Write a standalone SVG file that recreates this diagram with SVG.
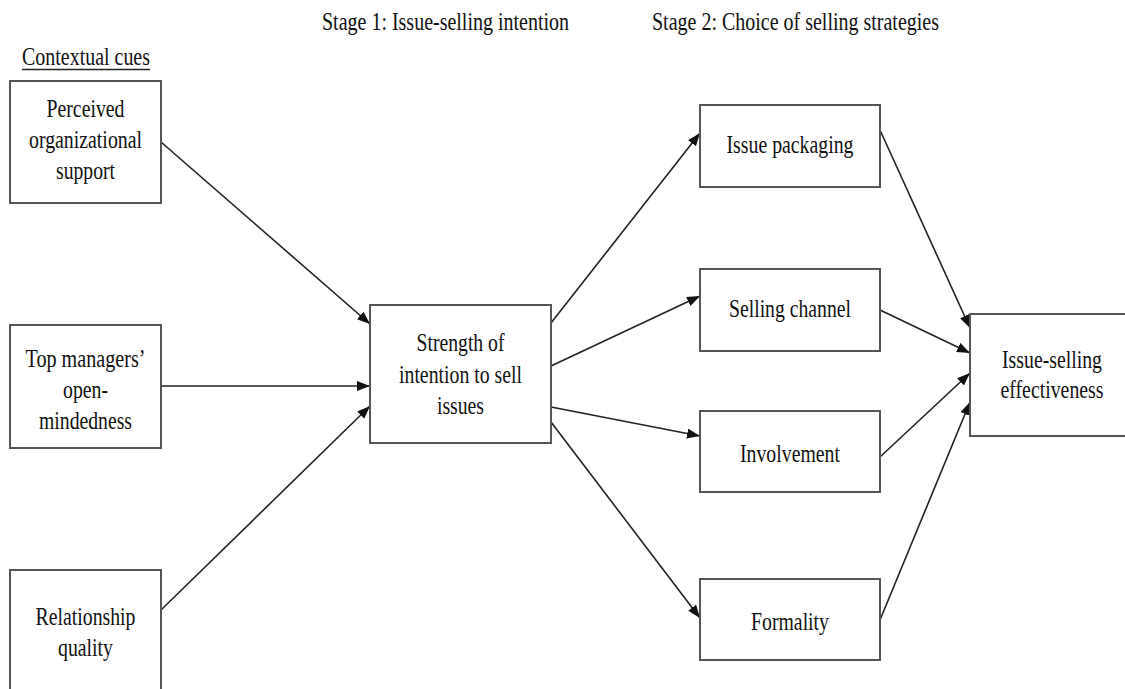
<svg xmlns="http://www.w3.org/2000/svg" width="1125" height="689" viewBox="0 0 1125 689">
  <style>
    .box { fill: #ffffff; stroke: #555555; stroke-width: 2; }
    .lbl { font-family: "Liberation Serif", "Times New Roman", serif; font-size: 25px; fill: #111111; text-anchor: middle; }
    .hdr { font-family: "Liberation Serif", "Times New Roman", serif; font-size: 25px; fill: #111111; text-anchor: start; }
    .edge { stroke: #222222; stroke-width: 1.6; fill: none; marker-end: url(#arrow); }
  </style>
  <defs>
    <marker id="arrow" markerUnits="userSpaceOnUse" markerWidth="14" markerHeight="11" refX="13" refY="5" orient="auto">
      <path d="M0,0 L13,5 L0,10 Z" fill="#111111"/>
    </marker>
  </defs>
  <rect width="1125" height="689" fill="#ffffff"/>

  <!-- column headings -->
  <g id="headings">
    <text class="hdr" x="322" y="30" textLength="247" lengthAdjust="spacingAndGlyphs">Stage 1: Issue-selling intention</text>
    <text class="hdr" x="652" y="30" textLength="287" lengthAdjust="spacingAndGlyphs">Stage 2: Choice of selling strategies</text>
    <text class="hdr" x="22" y="65" textLength="128" lengthAdjust="spacingAndGlyphs">Contextual cues</text>
    <line x1="22" y1="69.5" x2="150" y2="69.5" stroke="#222222" stroke-width="1.3"/>
  </g>

  <!-- connectors -->
  <g id="connectors">
    <line class="edge" x1="161" y1="142" x2="370" y2="324"/>
    <line class="edge" x1="161" y1="386" x2="370" y2="386"/>
    <line class="edge" x1="161" y1="610" x2="370" y2="406"/>
    <line class="edge" x1="551" y1="323" x2="700" y2="133"/>
    <line class="edge" x1="551" y1="366" x2="700" y2="296"/>
    <line class="edge" x1="551" y1="407" x2="700" y2="436"/>
    <line class="edge" x1="551" y1="422" x2="700" y2="618"/>
    <line class="edge" x1="880" y1="130" x2="970" y2="328"/>
    <line class="edge" x1="880" y1="310" x2="970" y2="353"/>
    <line class="edge" x1="880" y1="457" x2="970" y2="373"/>
    <line class="edge" x1="880" y1="620" x2="970" y2="402"/>
  </g>

  <!-- contextual cues -->
  <g id="perceived-support">
    <rect class="box" x="10" y="81" width="151" height="122"/>
    <text class="lbl" x="85.5" y="117" textLength="78" lengthAdjust="spacingAndGlyphs">Perceived</text>
    <text class="lbl" x="85.5" y="148" textLength="113" lengthAdjust="spacingAndGlyphs">organizational</text>
    <text class="lbl" x="85.5" y="179" textLength="59" lengthAdjust="spacingAndGlyphs">support</text>
  </g>
  <g id="open-mindedness">
    <rect class="box" x="10" y="325" width="151" height="123"/>
    <text class="lbl" x="85.5" y="367" textLength="120" lengthAdjust="spacingAndGlyphs">Top managers’</text>
    <text class="lbl" x="85.5" y="398" textLength="45" lengthAdjust="spacingAndGlyphs">open-</text>
    <text class="lbl" x="85.5" y="429" textLength="93" lengthAdjust="spacingAndGlyphs">mindedness</text>
  </g>
  <g id="relationship-quality">
    <rect class="box" x="10" y="570" width="151" height="123"/>
    <text class="lbl" x="85.5" y="625" textLength="100" lengthAdjust="spacingAndGlyphs">Relationship</text>
    <text class="lbl" x="85.5" y="656" textLength="55" lengthAdjust="spacingAndGlyphs">quality</text>
  </g>

  <!-- stage 1 -->
  <g id="intention-strength">
    <rect class="box" x="370" y="305" width="181" height="138"/>
    <text class="lbl" x="460.5" y="351" textLength="88" lengthAdjust="spacingAndGlyphs">Strength of</text>
    <text class="lbl" x="460.5" y="383" textLength="123" lengthAdjust="spacingAndGlyphs">intention to sell</text>
    <text class="lbl" x="460.5" y="414" textLength="47" lengthAdjust="spacingAndGlyphs">issues</text>
  </g>

  <!-- stage 2 -->
  <g id="issue-packaging">
    <rect class="box" x="700" y="105" width="180" height="82"/>
    <text class="lbl" x="790" y="153" textLength="127" lengthAdjust="spacingAndGlyphs">Issue packaging</text>
  </g>
  <g id="selling-channel">
    <rect class="box" x="700" y="269" width="180" height="82"/>
    <text class="lbl" x="790" y="317" textLength="122" lengthAdjust="spacingAndGlyphs">Selling channel</text>
  </g>
  <g id="involvement">
    <rect class="box" x="700" y="411" width="180" height="81"/>
    <text class="lbl" x="790" y="462" textLength="100" lengthAdjust="spacingAndGlyphs">Involvement</text>
  </g>
  <g id="formality">
    <rect class="box" x="700" y="579" width="180" height="81"/>
    <text class="lbl" x="790" y="630" textLength="78" lengthAdjust="spacingAndGlyphs">Formality</text>
  </g>

  <!-- outcome: box runs off the right edge of the page -->
  <g id="effectiveness">
    <path class="box" d="M1125,314 H970 V436 H1125"/>
    <text class="lbl" x="1052" y="368" textLength="100" lengthAdjust="spacingAndGlyphs">Issue-selling</text>
    <text class="lbl" x="1052" y="398" textLength="103" lengthAdjust="spacingAndGlyphs">effectiveness</text>
  </g>
</svg>
